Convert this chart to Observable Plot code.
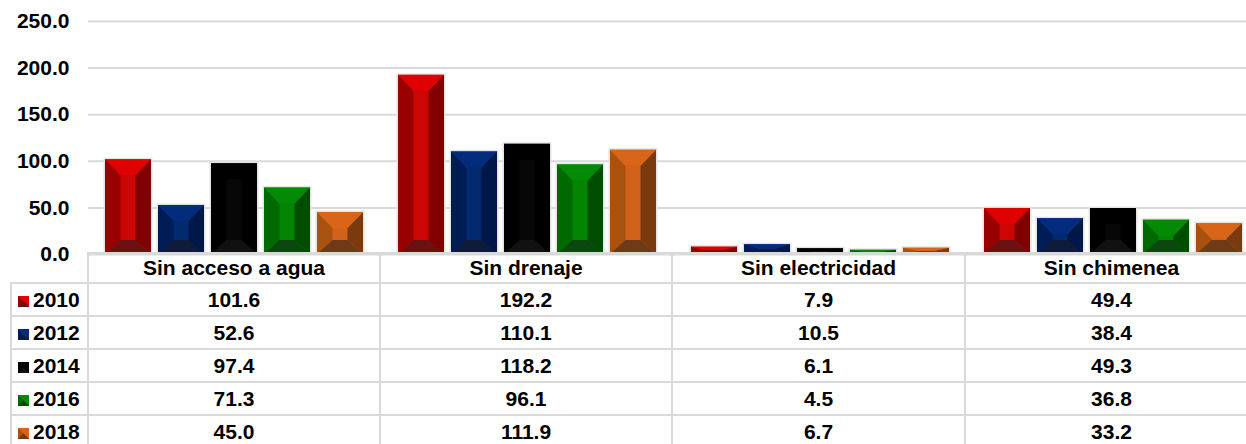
<!DOCTYPE html>
<html>
<head>
<meta charset="utf-8">
<script src="https://cdn.jsdelivr.net/npm/d3@7"></script>
<script src="https://cdn.jsdelivr.net/npm/@observablehq/plot@0.6"></script>
<style>
  html, body { margin: 0; padding: 0; background: #fff; overflow: hidden; }
  #wrap { position: relative; width: 1246px; height: 444px; overflow: hidden; font-family: "Liberation Sans", Arial, sans-serif; }
  #chart { position: absolute; left: 0; top: 0; width: 1260px; }
  #chart svg { max-width: none !important; }
  #tbl { position: absolute; left: 10px; top: 252px; width: 1247px; border-collapse: collapse; table-layout: fixed; font-weight: bold; font-size: 21px; color: #000; }
  #tbl td, #tbl th { border: 2px solid #d9d9d9; padding: 0; text-align: center; white-space: nowrap; background: transparent; font-weight: bold; overflow: visible; }
  #tbl tr.head th { height: 28px; }
  #tbl tr.head td.corner { border: none; }
  #tbl tr.body td { height: 31px; }
  #tbl td.lab { text-align: left; padding-left: 6px; }
  .sw { display: inline-block; width: 11px; height: 11px; margin-right: 4px; vertical-align: 0px; }
</style>
</head>
<body>
<div id="wrap">
  <div id="chart"></div>
  <table id="tbl"></table>
</div>
<script>
// ---- data ----
const categories = ["Sin acceso a agua", "Sin drenaje", "Sin electricidad", "Sin chimenea"];
const years = ["2010", "2012", "2014", "2016", "2018"];
const values2010 = [101.6, 192.2, 7.9, 49.4];
const values2012 = [52.6, 110.1, 10.5, 38.4];
const values2014 = [97.4, 118.2, 6.1, 49.3];
const values2016 = [71.3, 96.1, 4.5, 36.8];
const values2018 = [45.0, 111.9, 6.7, 33.2];
const yTicks = [0, 50, 100, 150, 200, 250];

const series = [values2010, values2012, values2014, values2016, values2018];
const data = years.flatMap((yr, j) => categories.map((c, i) => ({cat: c, year: yr, value: series[j][i]})));

// ---- bevel palette (style) ----
const palette = {
  "2010": {top: "#e00202", face: "#cc0505", left: "#990000", right: "#800000", bottom: "#6b1111"},
  "2012": {top: "#032c7c", face: "#03296f", left: "#001c57", right: "#001849", bottom: "#0e1b3b"},
  "2014": {top: "#000000", face: "#070707", left: "#000000", right: "#000000", bottom: "#111111"},
  "2016": {top: "#048a04", face: "#038403", left: "#006a00", right: "#004d00", bottom: "#0b480e"},
  "2018": {top: "#d86518", face: "#d2611a", left: "#a9520f", right: "#7a3a0e", bottom: "#6e3a17"}
};

function bevel(index, scales, values, dimensions, context, next) {
  const base = next(index, scales, values, dimensions, context);
  const rects = Array.from(base.querySelectorAll("rect"));
  const g = d3.create("svg:g");
  const ids = Array.from(index);
  rects.forEach((r, k) => {
    const d = data[ids[k]];
    const p = palette[d.year];
    const x0 = +r.getAttribute("x"), w = +r.getAttribute("width");
    const ya = +r.getAttribute("y"), h = +r.getAttribute("height");
    const x1 = x0 + w, yb = ya + h;
    const b = Math.min(15.5, w / 2 - 2);
    const tt = Math.min(16, h / 2), tb = Math.min(14, h / 2);
    const poly = (pts, fill) => g.append("polygon").attr("points", pts.map(q => q.join(",")).join(" ")).attr("fill", fill);
    g.append("rect").attr("x", x0 - 1.5).attr("y", ya - 1.5).attr("width", w + 3).attr("height", h + 1.5).attr("fill", "#e4e4e4");
    g.append("rect").attr("x", x0).attr("y", ya).attr("width", w).attr("height", h).attr("fill", p.face);
    poly([[x0, ya], [x0 + b, ya + tt], [x0 + b, yb - tb], [x0, yb]], p.left);
    poly([[x1, ya], [x1 - b, ya + tt], [x1 - b, yb - tb], [x1, yb]], p.right);
    poly([[x0, ya], [x1, ya], [x1 - b, ya + tt], [x0 + b, ya + tt]], p.top);
    poly([[x0, yb], [x1, yb], [x1 - b, yb - tb], [x0 + b, yb - tb]], p.bottom);
  });
  return g.node();
}

const chart = Plot.plot({
  width: 1260,
  height: 264,
  marginLeft: 88,
  marginRight: 0,
  marginTop: 21,
  marginBottom: 10,
  style: {fontFamily: "'Liberation Sans', Arial, sans-serif", fontSize: "21px", fontWeight: "bold", color: "#000", background: "transparent", overflow: "visible", maxWidth: "none"},
  fx: {domain: categories, padding: 0, axis: null},
  x: {domain: years, paddingInner: 0.13, paddingOuter: 0.32, axis: null},
  y: {domain: [0, 250], range: [254, 21], axis: null},
  marks: [
    Plot.gridY(yTicks, {stroke: "#d9d9d9", strokeOpacity: 1, strokeWidth: 2}),
    Plot.axisY(yTicks, {tickSize: 0, tickPadding: 19, label: null, tickFormat: d => d.toFixed(1), fontSize: 21, fontWeight: "bold", fill: "#000"}),
    Plot.barY(data, {fx: "cat", x: "year", y: "value", fill: "#888", render: bevel})
  ]
});
document.getElementById("chart").appendChild(chart);

// ---- data table below the chart ----
function swatch(year) {
  const p = palette[year];
  return `<svg class="sw" viewBox="0 0 11 11"><rect width="11" height="11" fill="${p.left}"/><polygon points="0,0 11,0 11,11" fill="${p.top}"/><polygon points="0,11 11,11 5.5,5.5" fill="${p.bottom}"/></svg>`;
}
const colWidths = [292, 292, 293, 293];
const tbl = document.getElementById("tbl");
let html = `<colgroup><col style="width:77px">${colWidths.map(w => `<col style="width:${w}px">`).join("")}</colgroup>`;
html += `<tr class="head"><td class="corner"></td>${categories.map(c => `<th>${c}</th>`).join("")}</tr>`;
years.forEach((yr, j) => {
  html += `<tr class="body"><td class="lab">${swatch(yr)}${yr}</td>${series[j].map(v => `<td>${v.toFixed(1)}</td>`).join("")}</tr>`;
});
tbl.innerHTML = html;
</script>
</body>
</html>
